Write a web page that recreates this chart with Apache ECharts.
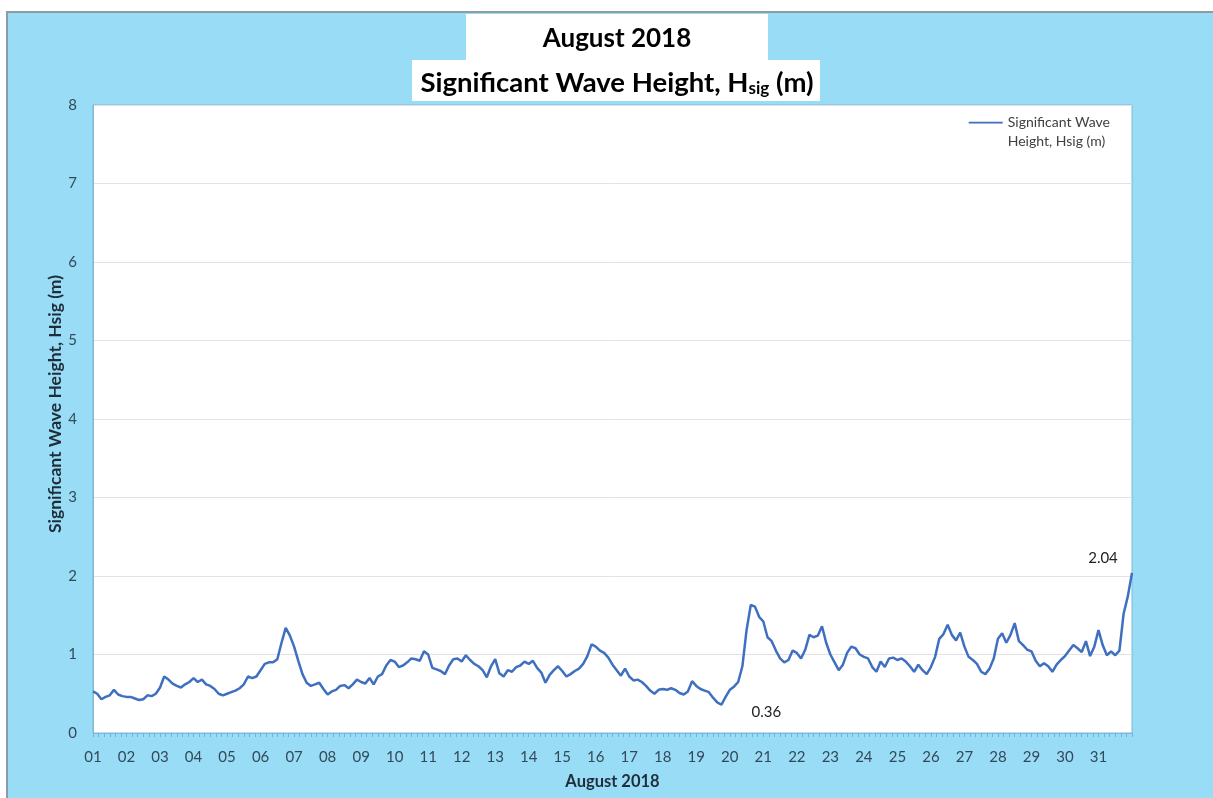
<!DOCTYPE html>
<html>
<head>
<meta charset="utf-8">
<title>August 2018 - Significant Wave Height</title>
<script src="https://cdn.jsdelivr.net/npm/echarts@6/dist/echarts.min.js"></script>
<style>
  html, body { margin: 0; padding: 0; background: #fff; }
  #chart { width: 1213px; height: 798px; }
</style>
</head>
<body>
<div id="chart"></div>
<script>
// readings every 3 hours, starting 01 Aug 00:00
const STEP_HOURS = 3
const dayLabels = ['01', '02', '03', '04', '05', '06', '07', '08', '09', '10',
  '11', '12', '13', '14', '15', '16', '17', '18', '19', '20',
  '21', '22', '23', '24', '25', '26', '27', '28', '29', '30', '31']
const yTicks = [0, 1, 2, 3, 4, 5, 6, 7, 8]

const aug01to07 = [
  0.53, 0.50, 0.43, 0.46, 0.48, 0.55, 0.49, 0.47,
  0.46, 0.46, 0.44, 0.42, 0.43, 0.48, 0.47, 0.50,
  0.58, 0.72, 0.68, 0.63, 0.60, 0.58, 0.62, 0.65,
  0.70, 0.65, 0.68, 0.62, 0.60, 0.56, 0.50, 0.48,
  0.50, 0.52, 0.54, 0.57, 0.62, 0.72, 0.70, 0.72,
  0.80, 0.88, 0.90, 0.90, 0.94, 1.15, 1.34, 1.24,
  1.10, 0.92, 0.75, 0.64, 0.60, 0.62, 0.64, 0.56
]
const aug08to14 = [
  0.49, 0.53, 0.55, 0.60, 0.61, 0.57, 0.62, 0.68,
  0.65, 0.63, 0.70, 0.62, 0.72, 0.75, 0.86, 0.93,
  0.91, 0.84, 0.86, 0.90, 0.95, 0.94, 0.92, 1.04,
  1.00, 0.83, 0.81, 0.79, 0.75, 0.86, 0.94, 0.95,
  0.91, 0.99, 0.93, 0.88, 0.85, 0.80, 0.71, 0.85,
  0.94, 0.76, 0.72, 0.80, 0.78, 0.84, 0.86, 0.91,
  0.88, 0.92, 0.83, 0.77, 0.64, 0.74, 0.80, 0.85
]
const aug15to21 = [
  0.79, 0.72, 0.75, 0.79, 0.82, 0.88, 0.98, 1.13,
  1.10, 1.05, 1.02, 0.96, 0.87, 0.80, 0.73, 0.82,
  0.72, 0.67, 0.68, 0.65, 0.60, 0.54, 0.50, 0.55,
  0.56, 0.55, 0.57, 0.55, 0.51, 0.49, 0.53, 0.66,
  0.60, 0.56, 0.54, 0.52, 0.45, 0.39, 0.36, 0.46,
  0.55, 0.59, 0.65, 0.85, 1.31, 1.63, 1.61, 1.48,
  1.42, 1.22, 1.17, 1.05, 0.95, 0.90, 0.93, 1.05
]
const aug22to28 = [
  1.02, 0.95, 1.06, 1.25, 1.22, 1.24, 1.36, 1.15,
  1.00, 0.90, 0.80, 0.87, 1.02, 1.10, 1.08, 1.00,
  0.97, 0.95, 0.84, 0.78, 0.91, 0.84, 0.95, 0.96,
  0.93, 0.95, 0.91, 0.85, 0.78, 0.87, 0.80, 0.75,
  0.84, 0.97, 1.20, 1.26, 1.38, 1.25, 1.18, 1.28,
  1.10, 0.97, 0.93, 0.88, 0.78, 0.75, 0.82, 0.95,
  1.20, 1.27, 1.15, 1.25, 1.40, 1.17, 1.12, 1.06
]
const aug29to31 = [
  1.04, 0.92, 0.85, 0.89, 0.85, 0.78, 0.87, 0.93,
  0.98, 1.05, 1.12, 1.08, 1.03, 1.17, 0.98, 1.10,
  1.31, 1.12, 0.99, 1.04, 0.99, 1.05, 1.52, 1.74,
  2.04
]

const hsig = [].concat(aug01to07, aug08to14, aug15to21, aug22to28, aug29to31)
const seriesData = hsig.map((v, i) => [i * STEP_HOURS, v])

const FONT = 'Lato, "Open Sans", sans-serif'
const LINE_BLUE = '#3f6fbf'
const chart = echarts.init(document.getElementById('chart'))

const option = {
  backgroundColor: '#99dcf6',
  animation: false,
  graphic: [
    // white strip round the frame, as in the screenshot
    { type: 'rect', left: 0, top: 0, shape: { width: 1213, height: 11 }, style: { fill: '#fff' } },
    { type: 'rect', left: 0, top: 0, shape: { width: 6, height: 798 }, style: { fill: '#fff' } },
    { type: 'polyline', shape: { points: [[7, 798], [7, 12], [1213, 12]] }, style: { stroke: '#8f9ba3', lineWidth: 2, fill: null } },
    // title boxes
    { type: 'rect', left: 466, top: 14, shape: { width: 302, height: 47 }, style: { fill: '#fff' } },
    { type: 'rect', left: 412, top: 60, shape: { width: 408, height: 41 }, style: { fill: '#fff' } },
    {
      type: 'text', x: 617, y: 39,
      style: {
        text: 'August 2018', font: 'bold 26px ' + FONT, fill: '#000',
        align: 'center', verticalAlign: 'middle'
      }
    },
    {
      type: 'text', x: 617, y: 82,
      style: {
        text: '{b|Significant Wave Height, H}{s|sig}{b| (m)}',
        align: 'center', verticalAlign: 'middle', fill: '#000',
        rich: {
          b: { font: 'bold 27.5px ' + FONT, lineHeight: 30, verticalAlign: 'bottom' },
          s: { font: 'bold 17px ' + FONT, lineHeight: 30, verticalAlign: 'bottom', padding: [10, 0, 0, 0] }
        }
      }
    }
  ],
  grid: {
    left: 93, right: 81, top: 105, bottom: 65,
    show: true, backgroundColor: '#fff', borderColor: '#7fb8d8', borderWidth: 1
  },
  legend: {
    right: 98, top: 108,
    itemWidth: 34, itemHeight: 38, itemGap: 4,
    // line drawn level with the first text row
    icon: 'path://M0,0 L0.01,0 L0,0 Z M0,8.8 L34,8.8 L34,10.6 L0,10.6 Z M0,38 L0.01,38 L0,38 Z',
    data: ['Hsig'],
    formatter: () => 'Significant Wave\nHeight, Hsig (m)',
    textStyle: { fontFamily: FONT, fontSize: 14, color: '#404040', lineHeight: 19 }
  },
  xAxis: {
    type: 'value',
    min: 0, max: dayLabels.length * 24, interval: 24,
    name: 'August 2018', nameLocation: 'middle', nameGap: 40, nameMoveOverlap: false,
    nameTextStyle: { fontFamily: FONT, fontWeight: 'bold', fontSize: 16.5, color: '#1f2d3a' },
    axisLine: { show: true, lineStyle: { color: '#7fb8d8', width: 1 } },
    axisTick: { show: true, length: 4, lineStyle: { color: '#6fb3dc' } },
    minorTick: { show: true, splitNumber: 6, length: 4, lineStyle: { color: '#6fb3dc' } },
    splitLine: { show: false },
    axisLabel: {
      fontFamily: FONT, fontSize: 15, color: '#34495a', margin: 17,
      formatter: v => dayLabels[v / 24] || ''
    }
  },
  yAxis: {
    type: 'value',
    min: yTicks[0], max: yTicks[yTicks.length - 1], interval: yTicks[1] - yTicks[0],
    name: 'Significant Wave Height, Hsig (m)', nameLocation: 'middle', nameGap: 29, nameMoveOverlap: false,
    nameTextStyle: {
      fontFamily: FONT, fontWeight: 'bold', fontSize: 17.5, color: '#1f2d3a',
      padding: [0, 0, 0, 30]
    },
    axisLine: { show: true, lineStyle: { color: '#7fb8d8' } },
    axisTick: { show: false },
    splitLine: { show: true, lineStyle: { color: '#e2e2e2', width: 1 } },
    axisLabel: { fontFamily: FONT, fontSize: 15, color: '#34495a', margin: 16 }
  },
  series: [{
    name: 'Hsig',
    type: 'line',
    data: seriesData,
    symbol: 'none',
    lineStyle: { color: LINE_BLUE, width: 2.5 },
    itemStyle: { color: LINE_BLUE },
    markPoint: {
      symbol: 'circle', symbolSize: 0,
      label: {
        show: true, fontFamily: FONT, fontSize: 15, color: '#222',
        formatter: p => p.value.toFixed(2)
      },
      data: [
        { type: 'max', label: { offset: [-29, -15] } },
        { type: 'min', label: { offset: [45, 7] } }
      ]
    }
  }]
}

chart.setOption(option)
</script>
</body>
</html>
